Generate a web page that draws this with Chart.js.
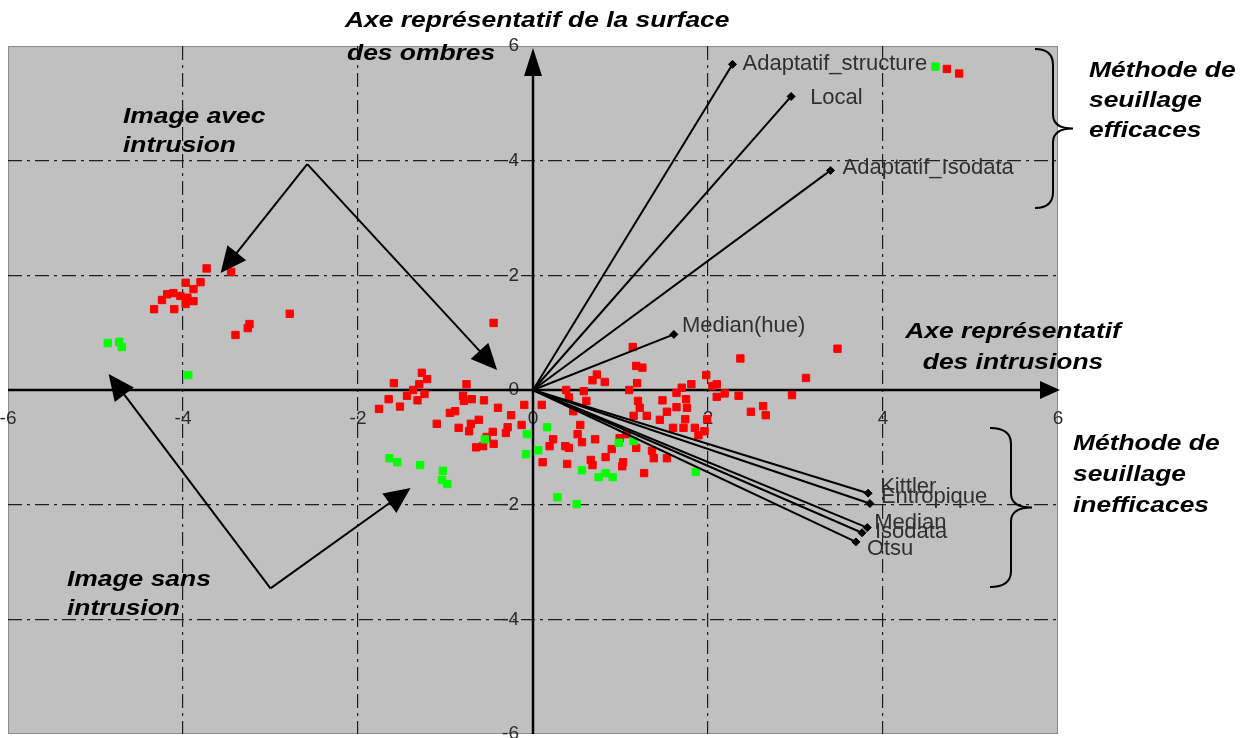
<!DOCTYPE html>
<html>
<head>
<meta charset="utf-8">
<script src="https://cdn.jsdelivr.net/npm/chart.js@4/dist/chart.umd.min.js"></script>
<style>
  html, body { margin: 0; padding: 0; background: #ffffff; }
  #wrap { width: 1256px; height: 738px; }
</style>
</head>
<body>
<div id="wrap"><canvas id="acp" width="1256" height="738"></canvas></div>
<script>
// individuals (factor plane 1-2)
const imagesAvecIntrusion = [
  [-3.73, 2.12], [-3.45, 2.06], [-3.80, 1.88], [-3.97, 1.87], [-3.88, 1.76], [-4.11, 1.69],
  [-4.18, 1.67], [-4.24, 1.57], [-4.03, 1.64], [-3.95, 1.61], [-3.88, 1.55], [-3.97, 1.50],
  [-4.33, 1.41], [-4.10, 1.41], [-2.78, 1.33], [-3.24, 1.15], [-3.26, 1.08], [-3.40, 0.96],
  [-0.45, 1.17], [-1.27, 0.30], [-1.21, 0.19], [-1.59, 0.12], [-1.30, 0.10], [-0.76, 0.10],
  [-1.37, 0.00], [-1.24, -0.07], [-1.44, -0.10], [-1.65, -0.16], [-1.32, -0.18], [-0.80, -0.10],
  [-0.70, -0.16], [-0.79, -0.19], [-0.56, -0.18], [-1.76, -0.33], [-1.52, -0.29], [-0.40, -0.31],
  [-0.10, -0.26], [0.10, -0.26], [-0.95, -0.40], [-0.89, -0.37], [-0.25, -0.44], [-1.10, -0.59],
  [-0.85, -0.66], [-0.71, -0.59], [-0.62, -0.52], [-0.73, -0.72], [-0.29, -0.65], [-0.31, -0.75],
  [-0.46, -0.73], [-0.13, -0.61], [-0.53, -0.82], [-0.45, -0.94], [-0.65, -1.00], [-0.57, -0.98],
  [0.23, -0.86], [0.19, -0.98], [0.11, -1.26],
  [1.14, 0.75], [3.48, 0.72], [2.37, 0.55], [1.18, 0.42], [1.25, 0.39], [3.12, 0.21],
  [0.73, 0.27], [0.68, 0.17], [0.82, 0.14], [1.19, 0.12], [1.81, 0.10], [1.98, 0.26],
  [2.10, 0.10], [2.05, 0.07], [1.70, 0.04], [0.38, 0.00], [0.58, -0.02], [1.10, 0.00],
  [1.64, -0.05], [2.19, -0.06], [2.10, -0.12], [2.35, -0.10], [2.96, -0.09], [0.41, -0.13],
  [0.61, -0.19], [1.20, -0.19], [1.48, -0.18], [1.75, -0.16], [0.46, -0.37], [1.64, -0.30],
  [1.76, -0.31], [1.22, -0.31], [1.53, -0.38], [2.49, -0.38], [2.63, -0.28], [2.66, -0.44],
  [1.99, -0.51], [1.15, -0.45], [1.30, -0.45], [1.45, -0.52], [1.74, -0.51], [1.72, -0.66],
  [1.60, -0.66], [1.85, -0.66], [1.96, -0.72], [1.89, -0.79], [0.54, -0.61], [0.51, -0.77],
  [0.56, -0.91], [0.37, -0.98], [0.41, -1.01], [0.71, -0.86], [1.18, -1.01], [1.36, -1.06],
  [1.38, -1.19], [1.53, -1.19], [1.07, -0.77], [0.99, -0.84], [0.90, -1.03], [0.83, -1.17],
  [0.66, -1.22], [0.68, -1.31], [1.03, -1.26], [1.02, -1.33], [0.39, -1.29], [1.27, -1.45],
  [4.73, 5.60], [4.87, 5.52]
];

const imagesSansIntrusion = [
  [-4.86, 0.82], [-4.73, 0.84], [-4.70, 0.75], [-3.94, 0.26], [-0.55, -0.86], [-0.07, -0.77],
  [0.16, -0.65], [-0.08, -1.12], [0.06, -1.05], [-1.64, -1.19], [-1.55, -1.26], [-1.29, -1.31],
  [-1.03, -1.41], [-1.04, -1.57], [-0.98, -1.64], [0.28, -1.87], [0.98, -0.92], [1.15, -0.89],
  [0.56, -1.40], [0.75, -1.52], [0.83, -1.45], [0.91, -1.52], [1.86, -1.43], [0.50, -1.99],
  [4.60, 5.64]
];

// variables (thresholding methods)
const methodNames = ['Adaptatif_structure', 'Local', 'Adaptatif_Isodata', 'Median(hue)',
  'Kittler', 'Entropique', 'Median', 'Isodata', 'Otsu'];
const methodX = [2.28, 2.95, 3.40, 1.61, 3.83, 3.85, 3.82, 3.76, 3.69];
const methodY = [5.68, 5.12, 3.83, 0.97, -1.80, -1.98, -2.40, -2.49, -2.65];

const tickValues = [-6, -4, -2, 0, 2, 4, 6];

// label nudges (px) so the overlapping names sit like in the original
const labelShift = [[10, 0], [19, 1], [12, -2], [8, -8], [12, -6], [11, -7], [7, -5], [13, -1], [11, 7]];

const BG = '#c0c0c0';
const TITLE_FONT = 'italic bold 22px "Liberation Sans", Arial';
const LABEL_FONT = '22px "Liberation Sans", Arial';

function arrowHead(ctx, x1, y1, x2, y2, len, half) {
  const a = Math.atan2(y2 - y1, x2 - x1);
  ctx.beginPath();
  ctx.moveTo(x2, y2);
  ctx.lineTo(x2 - len * Math.cos(a) + half * Math.sin(a), y2 - len * Math.sin(a) - half * Math.cos(a));
  ctx.lineTo(x2 - len * Math.cos(a) - half * Math.sin(a), y2 - len * Math.sin(a) + half * Math.cos(a));
  ctx.closePath();
  ctx.fill();
}

// the original annotations are a wide bold italic, so stretch them a bit
function wideText(ctx, text, x, y) {
  ctx.save();
  ctx.translate(x, y);
  ctx.scale(1.2, 1);
  ctx.fillText(text, 0, 0);
  ctx.restore();
}

const backdrop = {
  id: 'backdrop',
  beforeDraw(chart) {
    const { ctx, chartArea: a } = chart;
    ctx.save();
    ctx.fillStyle = BG;
    ctx.fillRect(a.left, a.top, a.right - a.left, a.bottom - a.top);
    ctx.strokeStyle = '#8c8c8c';
    ctx.lineWidth = 1;
    ctx.strokeRect(a.left + 0.5, a.top + 0.5, a.right - a.left - 1, a.bottom - a.top - 1);
    ctx.restore();
  },
  beforeDatasetsDraw(chart) {
    const { ctx, chartArea: a, scales: { x, y } } = chart;
    const x0 = x.getPixelForValue(0), y0 = y.getPixelForValue(0);
    ctx.save();
    // tick labels along the two axes
    ctx.fillStyle = '#2b2b2b';
    ctx.font = '19px "Liberation Sans", Arial';
    ctx.textBaseline = 'middle';
    ctx.textAlign = 'center';
    tickValues.forEach(v => ctx.fillText(String(v), x.getPixelForValue(v), y0 + 29));
    ctx.textAlign = 'right';
    tickValues.forEach(v => ctx.fillText(String(v), x0 - 14, y.getPixelForValue(v)));
    // axes with arrows
    ctx.strokeStyle = '#000';
    ctx.fillStyle = '#000';
    ctx.lineWidth = 2.5;
    ctx.beginPath();
    ctx.moveTo(a.left, y0); ctx.lineTo(a.right - 12, y0);
    ctx.moveTo(x0, a.bottom); ctx.lineTo(x0, a.top + 20);
    ctx.stroke();
    arrowHead(ctx, a.left, y0, a.right + 2, y0, 20, 9);
    arrowHead(ctx, x0, a.bottom, x0, a.top + 2, 28, 9);
    ctx.restore();
  },
  afterDatasetsDraw(chart) {
    const { ctx, scales: { x, y } } = chart;
    ctx.save();
    // method names
    ctx.fillStyle = '#303030';
    ctx.font = LABEL_FONT;
    ctx.textBaseline = 'middle';
    ctx.textAlign = 'left';
    methodNames.forEach((n, i) => {
      ctx.fillText(n, x.getPixelForValue(methodX[i]) + labelShift[i][0],
        y.getPixelForValue(methodY[i]) + labelShift[i][1]);
    });

    // annotation arrows (in data units)
    ctx.strokeStyle = '#000';
    ctx.fillStyle = '#000';
    ctx.lineWidth = 2;
    const arrows = [
      [[-2.58, 3.94], [-3.57, 2.04]],
      [[-2.58, 3.94], [-0.41, 0.35]],
      [[-3.00, -3.46], [-1.40, -1.71]],
      [[-3.00, -3.46], [-4.85, 0.28]]
    ];
    arrows.forEach(([p, q]) => {
      const x1 = x.getPixelForValue(p[0]), y1 = y.getPixelForValue(p[1]);
      const x2 = x.getPixelForValue(q[0]), y2 = y.getPixelForValue(q[1]);
      const a = Math.atan2(y2 - y1, x2 - x1);
      ctx.beginPath();
      ctx.moveTo(x1, y1);
      ctx.lineTo(x2 - 15 * Math.cos(a), y2 - 15 * Math.sin(a));
      ctx.stroke();
      arrowHead(ctx, x1, y1, x2, y2, 26, 12);
    });

    // curly braces on the right
    function brace(xl, xm, xt, top, bottom) {
      const mid = (top + bottom) / 2;
      ctx.beginPath();
      ctx.moveTo(xl, top);
      ctx.quadraticCurveTo(xm, top, xm, top + 16);
      ctx.lineTo(xm, mid - 14);
      ctx.quadraticCurveTo(xm, mid, xt, mid);
      ctx.quadraticCurveTo(xm, mid, xm, mid + 14);
      ctx.lineTo(xm, bottom - 16);
      ctx.quadraticCurveTo(xm, bottom, xl, bottom);
      ctx.stroke();
    }
    ctx.lineWidth = 2;
    brace(1035, 1053, 1073, 49, 208);
    brace(990, 1011, 1032, 428, 587);

    // bold italic annotations
    ctx.fillStyle = '#000';
    ctx.font = TITLE_FONT;
    ctx.textAlign = 'left';
    wideText(ctx, 'Axe représentatif de la surface', 345, 21);
    wideText(ctx, 'des ombres', 347, 54);
    wideText(ctx, 'Image avec', 123, 117);
    wideText(ctx, 'intrusion', 123, 146);
    wideText(ctx, 'Image sans', 67, 580);
    wideText(ctx, 'intrusion', 67, 609);
    wideText(ctx, 'Méthode de', 1089, 71);
    wideText(ctx, 'seuillage', 1089, 101);
    wideText(ctx, 'efficaces', 1089, 131);
    wideText(ctx, 'Méthode de', 1073, 444);
    wideText(ctx, 'seuillage', 1073, 475);
    wideText(ctx, 'inefficaces', 1073, 506);
    ctx.textAlign = 'center';
    wideText(ctx, 'Axe représentatif', 1013, 332);
    wideText(ctx, 'des intrusions', 1013, 363);
    ctx.restore();
  }
};

const vectorSets = methodNames.map((n, i) => ({
  type: 'line',
  label: n,
  data: [{ x: 0, y: 0 }, { x: methodX[i], y: methodY[i] }],
  borderColor: '#000',
  borderWidth: 2,
  pointStyle: 'rectRot',
  pointRadius: [0, 4],
  pointBackgroundColor: '#000',
  pointBorderColor: '#000',
  pointBorderWidth: 1,
  fill: false,
  tension: 0
}));

const gridColor = ctx => {
  const v = ctx.tick && ctx.tick.value;
  return (v === 0 || Math.abs(v) === 6) ? 'rgba(0,0,0,0)' : '#1e1e1e';
};

const dashDot = [14, 5, 3, 5];

new Chart(document.getElementById('acp'), {
  type: 'scatter',
  data: {
    datasets: [
      ...vectorSets,
      {
        label: 'Image sans intrusion',
        data: imagesSansIntrusion.map(p => ({ x: p[0], y: p[1] })),
        pointStyle: 'rect',
        pointRadius: 5.2,
        backgroundColor: '#00ff00',
        borderColor: '#00ff00',
        borderWidth: 1
      },
      {
        label: 'Image avec intrusion',
        data: imagesAvecIntrusion.map(p => ({ x: p[0], y: p[1] })),
        pointStyle: 'rect',
        pointRadius: 5.2,
        backgroundColor: '#ff0000',
        borderColor: '#ff0000',
        borderWidth: 1
      }
    ]
  },
  options: {
    responsive: false,
    animation: false,
    devicePixelRatio: 1,
    layout: { autoPadding: false, padding: { left: 8, top: 46, right: 198, bottom: 4 } },
    plugins: {
      legend: { display: false },
      tooltip: { enabled: false },
      title: { display: false }
    },
    scales: {
      x: {
        type: 'linear',
        min: -6,
        max: 6,
        ticks: { display: false, stepSize: 2 },
        border: { display: false, dash: dashDot },
        grid: { color: gridColor, lineWidth: 1.2, drawTicks: false }
      },
      y: {
        type: 'linear',
        min: -6,
        max: 6,
        ticks: { display: false, stepSize: 2 },
        border: { display: false, dash: dashDot },
        grid: { color: gridColor, lineWidth: 1.2, drawTicks: false }
      }
    }
  },
  plugins: [backdrop]
});
</script>
</body>
</html>
